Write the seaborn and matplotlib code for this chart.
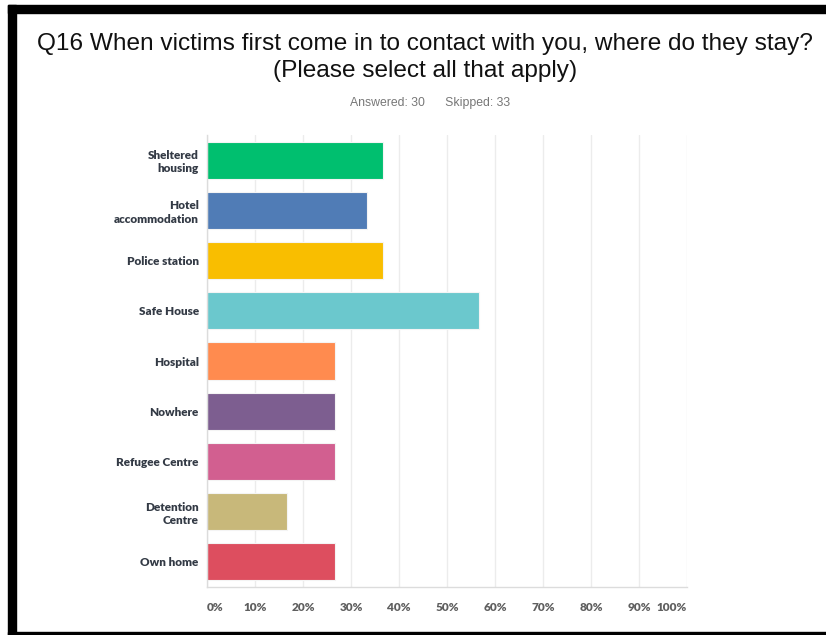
import matplotlib
matplotlib.use("Agg")
import matplotlib.pyplot as plt
import seaborn as sns
import pandas as pd
from matplotlib.patches import Rectangle

# Survey responses (share of 30 respondents)
categories = ["Sheltered\nhousing", "Hotel\naccommodation", "Police station", "Safe House",
              "Hospital", "Nowhere", "Refugee Centre", "Detention\nCentre", "Own home"]
percentages = [36.67, 33.33, 36.67, 56.67, 26.67, 26.67, 26.67, 16.67, 26.67]
bar_colors = ["#00BF6F", "#507CB6", "#F9BE00", "#6BC8CD", "#FF8B4F",
              "#7D5E90", "#D25F90", "#C8B87A", "#DD4E5F"]
tick_values = list(range(0, 101, 10))
tick_labels = [f"{v}%" for v in tick_values]

df = pd.DataFrame({"category": categories, "percent": percentages})

sns.set_theme(style="white")
plt.rcParams["font.family"] = ["Liberation Sans", "DejaVu Sans"]

fig = plt.figure(figsize=(8.26, 6.35), dpi=100)
ax = fig.add_axes([207 / 826, 48 / 635, 480 / 826, 452 / 635])

sns.barplot(data=df, y="category", x="percent", hue="category",
            palette=bar_colors, saturation=1, legend=False, orient="h", width=0.74,
            edgecolor="#f4f4f4", linewidth=0.8, ax=ax, zorder=3)

ax.set_xlim(0, 100)
ax.set_ylim(len(categories) - 0.5, -0.5)
ax.set_xticks(tick_values)
ax.set_xticklabels(tick_labels)
ax.set_xlabel("")
ax.set_ylabel("")
ax.grid(axis="x", color="#ececec", linewidth=1, zorder=0)
ax.grid(axis="y", visible=False)
for side in ["top", "right"]:
    ax.spines[side].set_visible(False)
for side in ["left", "bottom"]:
    ax.spines[side].set_color("#dcdcdc")
    ax.spines[side].set_linewidth(1)
    ax.spines[side].set_zorder(4)
ax.tick_params(axis="both", length=0)
ax.tick_params(axis="x", pad=11)
ax.tick_params(axis="y", pad=6)

for lbl in ax.get_xticklabels():
    lbl.set_family(["Lato", "DejaVu Sans"])
    lbl.set_fontweight("heavy")
    lbl.set_fontsize(8.5)
    lbl.set_color("#5f5f5f")
xl = ax.get_xticklabels()
xl[0].set_ha("left")
xl[-1].set_ha("right")

for lbl in ax.get_yticklabels():
    lbl.set_family(["Lato", "DejaVu Sans"])
    lbl.set_fontweight("heavy")
    lbl.set_fontsize(8.5)
    lbl.set_color("#333a45")
    lbl.set_linespacing(1.25)

fig.text(0.5145, 1 - 44 / 635, "Q16 When victims first come in to contact with you, where do they stay?",
         ha="center", va="center", fontsize=17.6, color="#111111")
fig.text(0.5145, 1 - 71 / 635, "(Please select all that apply)",
         ha="center", va="center", fontsize=17.6, color="#111111")
fig.text(430 / 826, 1 - 103 / 635, "Answered: 30      Skipped: 33",
         ha="center", va="center", fontsize=8.8, color="#777777")

# black frame along the top, left and bottom edges
fig.patches.append(Rectangle((8 / 826, 1 - 13 / 635), 1, 8 / 635,
                             transform=fig.transFigure, color="black", zorder=10))
fig.patches.append(Rectangle((8 / 826, 0), 8 / 826, 1 - 5 / 635,
                             transform=fig.transFigure, color="black", zorder=10))
fig.patches.append(Rectangle((8 / 826, 0), 1, 3.5 / 635,
                             transform=fig.transFigure, color="black", zorder=10))

fig.savefig("out.png", dpi=100)
